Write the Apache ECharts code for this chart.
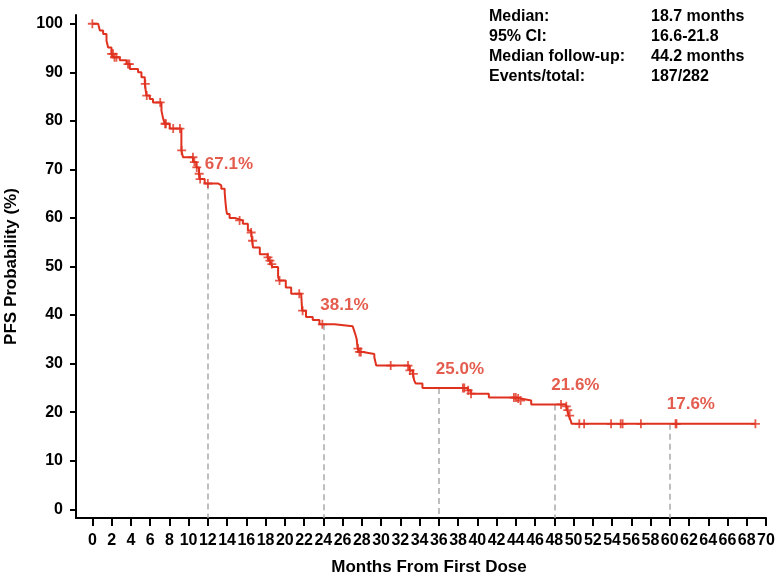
<!DOCTYPE html>
<html>
<head>
<meta charset="utf-8">
<script src="https://cdn.jsdelivr.net/npm/echarts@6/dist/echarts.min.js"></script>
<style>
  html, body { margin: 0; padding: 0; background: #ffffff; }
  #chart { width: 777px; height: 575px; }
</style>
</head>
<body>
<div id="chart"></div>
<script>
// Kaplan-Meier PFS estimate: time (months) of each step and survival (%) after it
const kmTime = [0, 0.6, 0.78, 1.12, 1.47, 1.64, 1.99, 2.16, 2.85, 3.55, 3.89, 4.75, 5.1, 5.45, 5.62, 5.96,
  6.3, 7.18, 7.35, 7.52, 8.04, 9.25, 9.42, 10.46, 10.8, 11.08, 11.15, 11.67, 13.05, 13.4, 13.75, 13.8,
  13.85, 13.92, 14.0, 14.26, 14.8, 15.3, 15.64, 16.16, 16.5, 16.6, 16.7, 17.4, 18.2, 18.4, 18.6, 18.7,
  19.3, 19.45, 20.1, 20.66, 21.7, 21.8, 22.2, 22.9, 23.6, 25.15, 27.05, 27.2, 27.35, 27.47, 27.52, 27.57,
  27.74, 28.1, 29.3, 29.5, 32.95, 33.3, 33.45, 33.6, 34.3, 39.0, 39.3, 41.2, 44.2, 44.5, 45.6, 49.2,
  49.35, 49.5, 49.7, 49.8, 68.9];
const kmSurv = [100, 99.6, 98.6, 97.9, 96.5, 95.1, 93.8, 93.1, 92.5, 91.7, 90.7, 90.0, 89.0, 87.6, 85.2, 84.5,
  83.8, 82.1, 80.5, 79.4, 78.4, 73.9, 72.5, 71.5, 70.4, 69.1, 68.0, 67.1, 66.7, 66.0, 65.3, 64.0,
  62.9, 61.6, 60.8, 60.0, 59.7, 59.5, 58.8, 57.4, 57.0, 55.3, 53.9, 52.5, 51.9, 51.2, 50.5, 49.9,
  47.8, 47.1, 45.7, 44.4, 44.0, 40.9, 39.6, 39.0, 38.1, 37.7, 37.3, 36.8, 35.9, 35.0, 34.0, 33.1,
  32.4, 32.0, 31.3, 29.6, 28.6, 27.9, 26.5, 25.9, 25.0, 24.5, 23.8, 23.0, 22.8, 22.4, 21.6, 21.2,
  20.4, 19.3, 18.3, 17.6, 17.6];

// Censoring times (months)
const censorTime = [0, 2.0, 2.15, 2.3, 2.5, 3.7, 3.85, 5.5, 5.65, 7.05, 7.55, 7.65, 8.4, 9.1, 9.28,
  10.45, 10.6, 10.85, 11.1, 11.2, 12.0, 15.3, 16.5, 16.65, 18.25, 18.45, 18.65, 19.45, 21.5, 21.85,
  23.9, 27.6, 27.75, 27.9, 31.0, 32.8, 33.0, 33.35, 38.5, 38.65, 39.05, 39.35, 43.8, 44.0, 44.25,
  44.5, 48.7, 49.25, 49.4, 49.6, 50.6, 51.1, 53.9, 54.9, 55.1, 57.0, 60.6, 60.7, 68.9];

// Landmark estimates
const landmarkTime = [12, 24, 36, 48, 60];
const landmarkSurv = [67.1, 38.1, 25.0, 21.6, 17.6];

// Axis ticks
const xTicks = [];
for (let m = 0; m <= 70; m += 2) xTicks.push(m);
const yTicks = [0, 10, 20, 30, 40, 50, 60, 70, 80, 90, 100];

// Summary statistics block
const statLabels = ['Median:', '95% CI:', 'Median follow-up:', 'Events/total:'];
const statValues = ['18.7 months', '16.6-21.8', '44.2 months', '187/282'];

const RED = '#e0311f';
const FONT = '"Liberation Sans", Arial, sans-serif';
const X_MIN = -1.7, Y_MIN = -1.8, Y_MAX = 101.8;

// survival value of the step curve at time t
function survAt(t) {
  let s = kmSurv[0];
  for (let i = 0; i < kmTime.length; i++) {
    if (kmTime[i] <= t) s = kmSurv[i]; else break;
  }
  return s;
}

const curveData = kmTime.map((t, i) => [t, kmSurv[i]]);
const censorData = censorTime.map(t => [t, survAt(t)]);
const landmarkData = landmarkTime.map((t, i) => [t, landmarkSurv[i]]);
const dropLines = landmarkData.map(p => [{ coord: [p[0], p[1]] }, { coord: [p[0], Y_MIN] }]);

const graphics = [];
statLabels.forEach((s, i) => {
  graphics.push({ type: 'text', left: 489, top: 9 + i * 20,
    style: { text: s, font: 'bold 16px ' + FONT, fill: '#000' } });
  graphics.push({ type: 'text', left: 651, top: 9 + i * 20,
    style: { text: statValues[i], font: 'bold 16px ' + FONT, fill: '#000' } });
});

const chart = echarts.init(document.getElementById('chart'), null, { renderer: 'canvas' });
chart.setOption({
  backgroundColor: '#ffffff',
  animation: false,
  grid: { left: 76, right: 11, top: 15, bottom: 57, containLabel: false, outerBoundsMode: 'none' },
  xAxis: {
    type: 'value', min: X_MIN, max: 70,
    name: 'Months From First Dose', nameLocation: 'middle', nameGap: 41,
    nameTextStyle: { fontFamily: FONT, fontWeight: 'bold', fontSize: 17, color: '#000', padding: [0, 0, 0, 16] },
    axisLine: { show: true, onZero: false, lineStyle: { color: '#000', width: 2 } },
    axisTick: { show: true, customValues: xTicks, length: 8, lineStyle: { color: '#000', width: 2 } },
    axisLabel: { customValues: xTicks, margin: 15, fontFamily: FONT, fontWeight: 'bold', fontSize: 16, color: '#000' },
    splitLine: { show: false }
  },
  yAxis: {
    type: 'value', min: Y_MIN, max: Y_MAX,
    name: 'PFS Probability (%)', nameLocation: 'middle', nameGap: 56, nameRotate: 90,
    nameTextStyle: { fontFamily: FONT, fontWeight: 'bold', fontSize: 17, color: '#000' },
    axisLine: { show: true, onZero: false, lineStyle: { color: '#000', width: 2 } },
    axisTick: { show: true, customValues: yTicks, length: 6, lineStyle: { color: '#000', width: 2 } },
    axisLabel: { customValues: yTicks, margin: 13, fontFamily: FONT, fontWeight: 'bold', fontSize: 16, color: '#000' },
    splitLine: { show: false }
  },
  graphic: graphics,
  series: [
    {
      type: 'line', step: 'end', data: curveData, symbol: 'none', z: 3,
      lineStyle: { color: RED, width: 2 },
      markLine: {
        silent: true, symbol: ['none', 'none'], label: { show: false },
        lineStyle: { color: '#a9a9a9', type: [6, 4], width: 1.5 },
        data: dropLines, z: 1
      }
    },
    {
      type: 'scatter', data: censorData, z: 4,
      symbol: 'path://M4,0h2v4h4v2h-4v4h-2v-4h-4v-2h4z', symbolSize: 9,
      itemStyle: { color: RED }
    },
    {
      type: 'scatter', data: landmarkData, symbolSize: 0, z: 5, silent: true,
      label: {
        show: true, position: [-3, -19], align: 'left', verticalAlign: 'middle',
        formatter: p => p.value[1].toFixed(1) + '%',
        fontFamily: FONT, fontWeight: 'bold', fontSize: 17, color: '#dd3322'
      }
    }
  ]
});
</script>
</body>
</html>
